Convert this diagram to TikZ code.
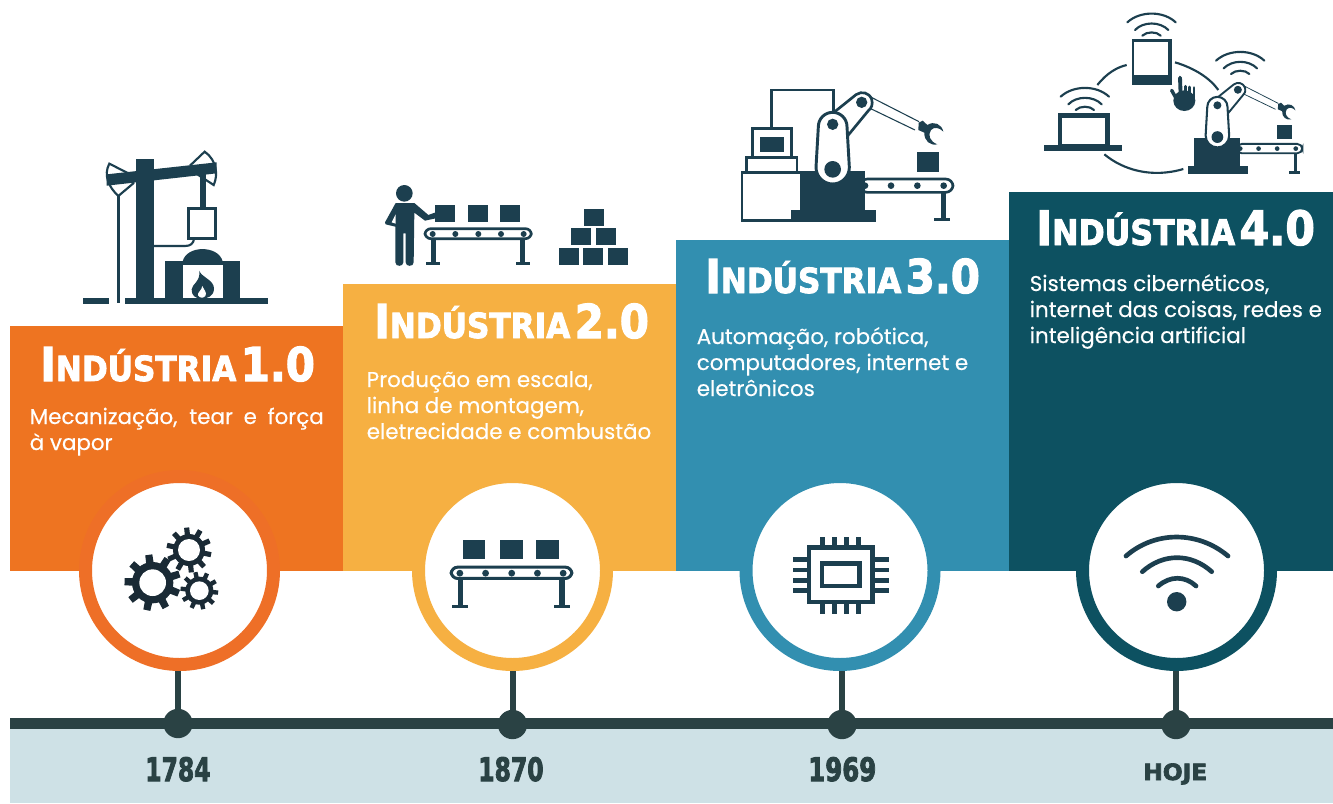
\documentclass[tikz,border=0pt]{standalone}
\usepackage{fontspec}
\usepackage{graphicx}
\setmainfont{Poppins}[RawFeature={embolden=0.35}]
\newfontfamily\ttlfont{DejaVu Sans Condensed Bold}[RawFeature={embolden=2.4}]
\newfontfamily\yrfont{DejaVu Sans Bold}[RawFeature={embolden=3}]
\definecolor{orangeP}{HTML}{EE7421}
\definecolor{orangeR}{HTML}{EE6F27}
\definecolor{yellowP}{HTML}{F6B042}
\definecolor{blueP}{HTML}{328FB0}
\definecolor{tealP}{HTML}{0D5161}
\definecolor{iconC}{HTML}{1C3F4F}
\definecolor{gearC}{HTML}{1A2A35}
\definecolor{lineC}{HTML}{2A4244}
\definecolor{bandC}{HTML}{CEE1E6}
\usetikzlibrary{calc}
\tikzset{
  panel/.style={fill=#1,draw=none},
  ringnode/.style={circle,fill=white,draw=#1,line width=9.75pt,minimum size=141pt,inner sep=0pt},
  dotnode/.style={circle,fill=lineC,draw=none,minimum size=22pt,inner sep=0pt},
  stem/.style={draw=lineC,line width=4.5pt},
  bodytext/.style={anchor=base west,inner sep=0pt,text=white,font=\fontsize{16.05pt}{18pt}\selectfont},
  ttl/.style={anchor=base west,inner sep=0pt,text=white},
  yr/.style={anchor=base west,inner sep=0pt,text=lineC},
  icoF/.style={fill=iconC,draw=none},
  wave/.style={draw=iconC,line width=1.6pt,fill=none,line cap=round},
  wavebig/.style={draw=iconC,line width=3.5pt,fill=none,line cap=round},
}
\newcommand{\smc}[1]{{\fontsize{26pt}{30pt}\selectfont\ttlfont #1}}
\newcommand{\bgc}[1]{{\fontsize{35pt}{39pt}\selectfont\ttlfont #1}}
\newcommand{\yrc}[1]{{\fontsize{30pt}{34pt}\selectfont\yrfont #1}}
\newcommand{\ttltext}[2]{\resizebox{#1}{!}{\bgc{I}\smc{NDÚSTRIA}\hspace{0.33em}\bgc{#2}}}
\newcommand{\conveyor}[1]{
  \foreach \bx in {180,279,375}{\fill[icoF] (\bx,90) rectangle ++(60,50);}
  \draw[draw=iconC,fill=white,line width={#1*2pt},rounded corners={#1*4.4pt}] (150,161) rectangle (469,191);
  \foreach \dx in {173,241,310,378,446}{\fill[icoF] (\dx,177) circle[radius=9];}
  \fill[icoF] (168,194) rectangle (182,262);
  \fill[icoF] (436,194) rectangle (450,262);
  \fill[icoF] (153,260) rectangle (195,270);
  \fill[icoF] (423,260) rectangle (465,270);
}
\newcommand{\robot}[1]{
  \draw[draw=iconC,fill=white,line width={#1*2pt},rounded corners={#1*5.5pt}] (390,297) rectangle (669,337);
  \foreach \dx in {405,483,562,641}{\fill[icoF] (\dx,317) circle[radius=10];}
  \fill[icoF] (633,338) rectangle (648,415);
  \fill[icoF] (612,413) rectangle (660,423);
  \fill[icoF] (561,216) rectangle (627,276);
  \fill[icoF] (210,272) rectangle (405,392);
  \fill[icoF] (183,390) rectangle (438,425);
  \draw[iconC,line width={#1*0.8pt}] (420,50) -- (567,125);
  \draw[iconC,line width={#1*0.8pt}] (420,85) -- (555,150);
  \fill[icoF] (566,128) -- (578,122) -- (592,135) .. controls (612,122) and (635,132) .. (640,155)
     .. controls (628,142) and (612,140) .. (603,150) .. controls (592,165) and (600,185) .. (622,193)
     .. controls (600,198) and (582,182) .. (583,158) -- (565,150) -- cycle;
  \draw[draw=iconC,fill=white,line width={#1*2pt}] (312,97) -- (378,44)
     .. controls (395,32) and (418,38) .. (425,58) .. controls (429,72) and (425,85) .. (415,92) -- (355,165) -- cycle;
  \draw[draw=iconC,fill=white,line width={#1*2.2pt}] (265,140) arc[start angle=180,end angle=360,radius=43]
     -- (358,262) arc[start angle=0,end angle=180,radius=50] -- cycle;
  \fill[icoF] (395,67) circle[radius=17];
  \fill[icoF] (308,133) circle[radius=17];
  \fill[icoF] (308,268) circle[radius=25];
}
\newcommand{\wifi}[2]{
  \begin{scope}[shift={(#1,#2)}]
  \draw[wave] (277,52) .. controls (315,17) and (385,17) .. (422,52);
  \draw[wave] (300,75) .. controls (325,49) and (375,49) .. (400,75);
  \draw[wave] (322,92) .. controls (335,79) and (365,79) .. (377,92);
  \end{scope}
}
\newcommand{\gear}[6]{%
  \fill[gearC] (#1,#2) circle[radius=#4];
  \pgfmathsetmacro{\stepang}{360/#6}
  \foreach \ti in {1,...,#6}{
    \pgfmathsetmacro{\aa}{\ti*\stepang+#4}
    \pgfmathsetmacro{\wa}{\stepang*0.27}
    \pgfmathsetmacro{\wb}{\stepang*0.18}
    \fill[gearC] ($(#1,#2)+(\aa-\wa:#4-2)$) -- ($(#1,#2)+(\aa-\wb:#3)$) -- ($(#1,#2)+(\aa+\wb:#3)$) -- ($(#1,#2)+(\aa+\wa:#4-2)$) -- cycle;
  }
  \fill[white] (#1,#2) circle[radius=#5];
}
\begin{document}
\begin{tikzpicture}[x=0.75pt,y=-0.75pt]
\useasboundingbox (0,0) rectangle (1333,803);
\fill[white] (0,0) rectangle (1333,803);
\fill[panel=orangeP] (10,326) rectangle (343,571);
\fill[panel=yellowP] (343,284) rectangle (676,571);
\fill[panel=blueP] (676,240) rectangle (1009,571);
\fill[panel=tealP] (1009,192) rectangle (1333,571);
\fill[bandC] (10,729) rectangle (1333,803);
\fill[lineC] (10,718) rectangle (1333,729);
\node[ringnode=orangeR] (ring1) at (179.5,570.5) {};
\node[ringnode=yellowP] (ring2) at (512.5,570.5) {};
\node[ringnode=blueP] (ring3) at (840,570.5) {};
\node[ringnode=tealP] (ring4) at (1176.5,570.5) {};
\node[dotnode] (dot1) at (178,723.5) {};
\node[dotnode] (dot2) at (512.5,724.5) {};
\node[dotnode] (dot3) at (842,724.5) {};
\node[dotnode] (dot4) at (1176,724.5) {};
\foreach \n in {1,2,3,4}{\draw[stem] (dot\n) -- (dot\n |- ring\n.south);}
\node[ttl] (t1) at (40,381) {\ttltext{206pt}{1.0}};
\node[ttl] (t2) at (374,338) {\ttltext{206pt}{2.0}};
\node[ttl] (t3) at (705,293) {\ttltext{206pt}{3.0}};
\node[ttl] (t4) at (1036,245) {\ttltext{209pt}{4.0}};
\node[bodytext] (b11) at (29.5,424) {\makebox[220.5pt][s]{Mecanização, tear e força}};
\node[bodytext] (b12) at (29.5,450) {à vapor};
\node[bodytext] (b21) at (366.5,387) {Produção em escala,};
\node[bodytext] (b22) at (366.5,413) {linha de montagem,};
\node[bodytext] (b23) at (366.5,439) {eletrecidade e combustão};
\node[bodytext] (b31) at (696.5,344) {Automação, robótica,};
\node[bodytext] (b32) at (696.5,370) {computadores, internet e};
\node[bodytext] (b33) at (696.5,396) {eletrônicos};
\node[bodytext] (b41) at (1029.5,291) {Sistemas cibernéticos,};
\node[bodytext] (b42) at (1029.5,317) {internet das coisas, redes e};
\node[bodytext] (b43) at (1029.5,343) {inteligência artificial};
\node[yr] (y1) at (145,781) {\resizebox{49pt}{18pt}{\yrc{1784}}};
\node[yr] (y2) at (478,781) {\resizebox{49pt}{18pt}{\yrc{1870}}};
\node[yr] (y3) at (808,781) {\resizebox{51pt}{18pt}{\yrc{1969}}};
\node[yr] (y4) at (1143,780) {\resizebox{48pt}{12.5pt}{\yrc{HOJE}}};
\begin{scope}[shift={(70,140)},x=0.25pt,y=-0.25pt]
  \fill[icoF] (40,473) rectangle (117,491);
  \fill[icoF] (165,473) rectangle (594,491);
  \fill[icoF] (142,168) rectangle (150,488);
  \fill[icoF] (285,363) rectangle (510,475);
  \fill[icoF] (338,364) .. controls (350,315) and (445,315) .. (458,364) -- cycle;
  \fill[white] (339,376) rectangle (459,475);
  \fill[icoF] (388,392) .. controls (392,410) and (432,420) .. (432,445) .. controls (432,470) and (410,476) .. (395,476)
     .. controls (375,476) and (364,465) .. (365,448) .. controls (366,432) and (392,425) .. (388,392) -- cycle;
  \fill[white] (397,438) .. controls (402,450) and (412,458) .. (406,468) .. controls (400,476) and (388,474) .. (384,466) .. controls (381,458) and (395,452) .. (397,438) -- cycle;
  \draw[draw=iconC,fill=white,line width=1.6pt] (118,71) -- (175,100) -- (190,130) -- (145,168) .. controls (115,140) and (100,105) .. (118,71) -- cycle;
  \draw[draw=iconC,fill=white,line width=1.6pt] (404,35) -- (362,75) -- (385,105) -- (431,135) .. controls (445,105) and (440,60) .. (404,35) -- cycle;
  \fill[icoF] (110,103) -- (440,67) -- (440,100) -- (110,137) -- cycle;
  \fill[icoF] (198,57) rectangle (252,490);
  \fill[icoF] (390,95) rectangle (407,205);
  \draw[draw=iconC,fill=none,line width=1.6pt] (252,318) -- (345,318) .. controls (362,318) and (370,310) .. (372,297);
  \draw[draw=iconC,fill=white,line width=2pt] (356,205) rectangle (437,296);
\end{scope}
\begin{scope}[shift={(375,175)},x=0.25pt,y=-0.25pt]
  \conveyor{1}
  \fill[icoF] (88,55) circle[radius=25];
  \fill[icoF] (62,84) -- (118,84) -- (160,120) -- (182,112) -- (182,130) -- (150,137) -- (118,113) -- (116,262)
     .. controls (116,276) and (92,276) .. (92,262) -- (92,175) -- (85,175) -- (85,262)
     .. controls (85,276) and (61,276) .. (61,262) -- (61,155) -- (32,148) -- (30,142) -- cycle;
  \fill[white] (62,118) -- (50,142) -- (62,146) -- cycle;
  \foreach \bx/\by in {552/219,624/219,699/219,588/159,663/159,627/102}{\fill[icoF] (\bx,\by) rectangle ++(60,51);}
\end{scope}
\begin{scope}[shift={(730,80)},x=0.25pt,y=-0.25pt]
  \draw[draw=iconC,fill=none,line width=1.8pt] (125,143) -- (125,30) -- (310,30) -- (310,100);
  \draw[draw=iconC,fill=white,line width=1.8pt] (36,278) rectangle (215,422);
  \draw[draw=iconC,fill=white,line width=1.8pt] (49,233) rectangle (201,276);
  \draw[draw=iconC,fill=white,line width=1.8pt] (68,145) rectangle (185,232);
  \fill[icoF] (90,171) rectangle (162,216);
  \robot{1}
\end{scope}
\begin{scope}[shift={(1035,5)},x=0.25pt,y=-0.25pt]
  \draw[draw=iconC,line width=1.6pt] (187,240) .. controls (215,205) and (245,187) .. (275,180);
  \draw[draw=iconC,line width=1.6pt] (420,172) .. controls (480,190) and (525,220) .. (550,255);
  \draw[draw=iconC,line width=1.6pt] (208,448) .. controls (265,495) and (350,520) .. (445,492);
  \wifi{0}{0}
  \wifi{-200}{223}
  \wifi{266}{115}
  \fill[icoF] (291,102) rectangle (411,240);
  \fill[white] (297,110) rectangle (400,210);
  \draw[draw=iconC,fill=white,line width=3.4pt] (75,332) rectangle (218,425);
  \fill[icoF] (27,420) rectangle (260,438);
  \draw[iconC,line width=2.9pt,line cap=round] (435,218) -- (437,275);
  \draw[iconC,line width=2.2pt,line cap=round] (451,244) -- (451,280);
  \draw[iconC,line width=2.2pt,line cap=round] (464,246) -- (464,280);
  \draw[iconC,line width=2.2pt,line cap=round] (477,248) -- (477,280);
  \draw[iconC,line width=2.6pt,line cap=round] (410,256) -- (430,292);
  \fill[icoF] (448,287) ellipse[x radius=33,y radius=31];
\end{scope}
\begin{scope}[shift={(1144.9,74)},x=0.1765pt,y=-0.1765pt]
  \robot{0.7}
\end{scope}
\begin{scope}[shift={(75,480)},x=0.25pt,y=-0.25pt]
  \gear{233}{308}{85}{62}{40}{9}
  \gear{342}{210}{68}{48}{33}{10}
  \gear{373}{332}{57}{42}{28}{10}
\end{scope}
\begin{scope}[shift={(394.4,506.2)},x=0.2838pt,y=-0.2838pt]
  \conveyor{1.13}
\end{scope}
\begin{scope}[shift={(740,480)},x=0.25pt,y=-0.25pt]
  \draw[draw=iconC,fill=none,line width=3.5pt] (207,203) rectangle (398,366);
  \draw[draw=iconC,fill=none,line width=3.5pt] (246,250) rectangle (359,318);
  \foreach \px in {248,284,320,356}{
    \fill[icoF] (\px-7,170) rectangle (\px+7,196);
    \fill[icoF] (\px-7,373) rectangle (\px+7,403);
  }
  \foreach \py in {239,270,301,331}{
    \fill[icoF] (160,\py-7) rectangle (200,\py+7);
    \fill[icoF] (405,\py-7) rectangle (447,\py+7);
  }
\end{scope}
\fill[icoF] (1176.7,601.7) circle[radius=9.7];
\draw[wavebig] (1126,556) .. controls (1155,530.7) and (1198,530.7) .. (1228,556);
\draw[wavebig] (1142.3,571.7) .. controls (1163,553) and (1191,553) .. (1211.7,571.7);
\draw[wavebig] (1158.3,586) .. controls (1170,575.7) and (1185,575.7) .. (1196,586);
\end{tikzpicture}
\end{document}
